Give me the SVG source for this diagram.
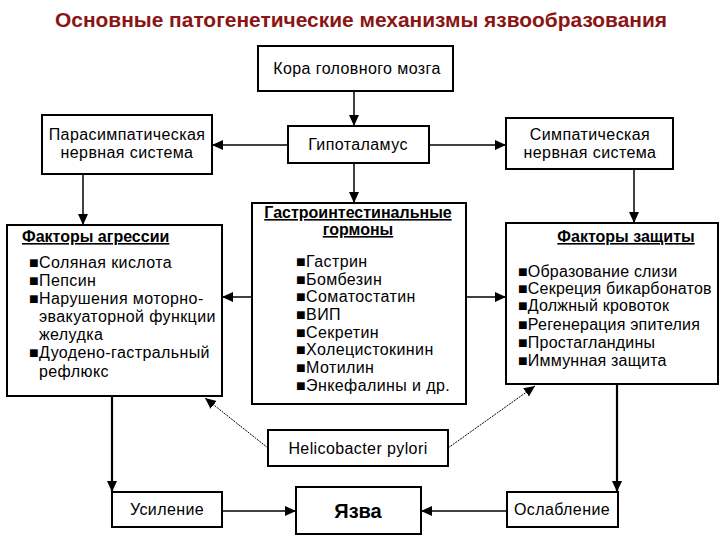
<svg xmlns="http://www.w3.org/2000/svg" width="720" height="540" viewBox="0 0 720 540">
<defs>
<style>
.box{fill:#fff;stroke:#000;stroke-width:2}
.t{font-family:"Liberation Sans",Arial,"DejaVu Sans",sans-serif;font-size:16px;fill:#000;letter-spacing:0.4px}
.c{text-anchor:middle}
.h{font-weight:bold;text-decoration:underline;letter-spacing:0}
.r{letter-spacing:0.2px}
.ln{stroke:#000;stroke-width:1.5;fill:none}
.thick{stroke:#000;stroke-width:2.2;fill:none}
.dot{stroke:#000;stroke-width:1;fill:none;stroke-dasharray:2 1}
</style>
<marker id="ah" markerUnits="userSpaceOnUse" markerWidth="12" markerHeight="12" viewBox="0 0 12 12" refX="11" refY="6" orient="auto">
<path d="M0,1 L11,6 L0,11 Z" fill="#000"/>
</marker>
</defs>
<rect width="720" height="540" fill="#fff"/>
<text x="361" y="27" text-anchor="middle" textLength="612" lengthAdjust="spacingAndGlyphs" style="font-family:'Liberation Sans',Arial,sans-serif;font-size:20px;font-weight:bold;fill:#8B1414">Основные патогенетические механизмы язвообразования</text>

<g id="connectors">
<line class="ln" x1="354" y1="91" x2="354" y2="126" marker-end="url(#ah)"/>
<line class="ln" x1="288" y1="145" x2="212" y2="145" marker-end="url(#ah)"/>
<line class="ln" x1="429" y1="145" x2="506" y2="145" marker-end="url(#ah)"/>
<line class="ln" x1="83" y1="174" x2="83" y2="225" marker-end="url(#ah)"/>
<line class="ln" x1="634" y1="169" x2="634" y2="223" marker-end="url(#ah)"/>
<line class="ln" x1="354" y1="163" x2="354" y2="203" marker-end="url(#ah)"/>
<line class="ln" x1="252" y1="297" x2="222" y2="297" marker-end="url(#ah)"/>
<line class="ln" x1="466" y1="297" x2="506" y2="297" marker-end="url(#ah)"/>
<line class="dot" x1="268" y1="448" x2="205" y2="398" marker-end="url(#ah)"/>
<line class="dot" x1="448" y1="448" x2="535" y2="386" marker-end="url(#ah)"/>
<line class="thick" x1="112" y1="396" x2="112" y2="492" marker-end="url(#ah)"/>
<line class="thick" x1="617" y1="384" x2="617" y2="492" marker-end="url(#ah)"/>
<line class="ln" x1="222" y1="511" x2="296" y2="511" marker-end="url(#ah)"/>
<line class="ln" x1="507" y1="511" x2="421" y2="511" marker-end="url(#ah)"/>
</g>

<g id="kora">
<rect class="box" x="258" y="46" width="195" height="45"/>
<text class="t c" x="357" y="74">Кора головного мозга</text>
</g>
<g id="gipotalamus">
<rect class="box" x="288" y="126" width="141" height="37"/>
<text class="t c" x="358" y="150">Гипоталамус</text>
</g>
<g id="parasimp">
<rect class="box" x="42" y="115" width="170" height="59"/>
<text class="t c" x="127" y="140">Парасимпатическая</text>
<text class="t c" x="127" y="158">нервная система</text>
</g>
<g id="simp">
<rect class="box" x="506" y="118" width="167" height="51"/>
<text class="t c" x="590" y="140">Симпатическая</text>
<text class="t c" x="590" y="158">нервная система</text>
</g>
<g id="agressiya">
<rect class="box" x="7" y="225" width="215" height="171"/>
<text class="t h" x="22" y="242">Факторы агрессии</text>
<text class="t" x="29" y="268">■Соляная кислота</text>
<text class="t" x="29" y="286">■Пепсин</text>
<text class="t" x="29" y="304">■Нарушения моторно-</text>
<text class="t" x="39" y="322">эвакуаторной функции</text>
<text class="t" x="39" y="340">желудка</text>
<text class="t" x="29" y="358">■Дуодено-гастральный</text>
<text class="t" x="39" y="377">рефлюкс</text>
</g>
<g id="gormony">
<rect class="box" x="252" y="203" width="214" height="201"/>
<text class="t c h" x="358" y="218">Гастроинтестинальные</text>
<text class="t c h" x="358" y="235">гормоны</text>
<text class="t" x="296" y="267">■Гастрин</text>
<text class="t" x="296" y="285">■Бомбезин</text>
<text class="t" x="296" y="302">■Соматостатин</text>
<text class="t" x="296" y="320">■ВИП</text>
<text class="t" x="296" y="338">■Секретин</text>
<text class="t" x="296" y="355">■Холецистокинин</text>
<text class="t" x="296" y="373">■Мотилин</text>
<text class="t" x="296" y="391">■Энкефалины и др.</text>
</g>
<g id="zashchita">
<rect class="box" x="506" y="223" width="212" height="161"/>
<text class="t c h" x="626" y="242">Факторы защиты</text>
<text class="t r" x="518" y="277">■Образование слизи</text>
<text class="t r" x="518" y="294">■Секреция бикарбонатов</text>
<text class="t r" x="518" y="311">■Должный кровоток</text>
<text class="t r" x="518" y="330">■Регенерация эпителия</text>
<text class="t r" x="518" y="348">■Простагландины</text>
<text class="t r" x="518" y="366">■Иммунная защита</text>
</g>
<g id="helicobacter">
<rect class="box" x="268" y="430" width="180" height="36"/>
<text class="t c" x="358" y="454">Helicobacter pylori</text>
</g>
<g id="usilenie">
<rect class="box" x="112" y="492" width="110" height="35"/>
<text class="t c" x="167" y="515">Усиление</text>
</g>
<g id="yazva">
<rect class="box" x="296" y="487" width="125" height="47"/>
<text class="t c" x="358" y="518" style="font-size:20px;font-weight:bold;letter-spacing:0">Язва</text>
</g>
<g id="oslablenie">
<rect class="box" x="507" y="492" width="111" height="35"/>
<text class="t c" x="562" y="515">Ослабление</text>
</g>
</svg>
